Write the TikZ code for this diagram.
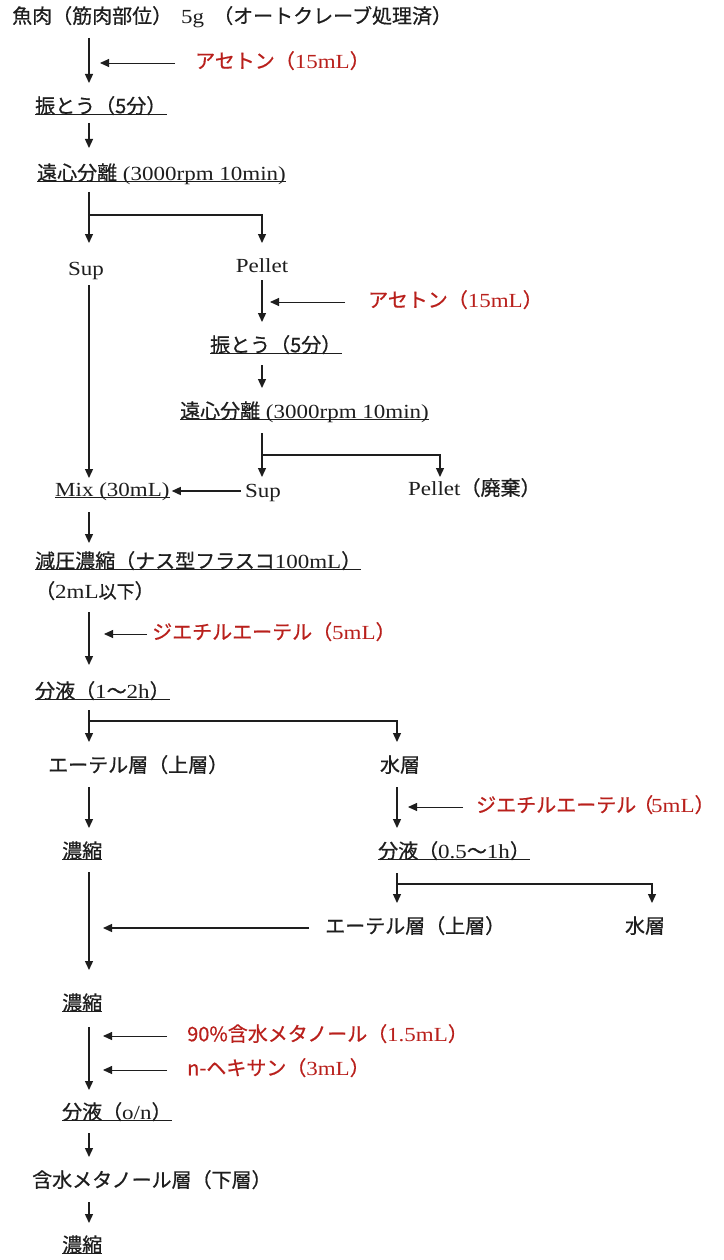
\documentclass[tikz,border=0pt]{standalone}
\usepackage{fontspec}
\setmainfont{Liberation Serif}[FakeStretch=1.15]
\newfontfamily\jp{Noto Sans CJK JP}[FakeBold=0.6]
\usetikzlibrary{arrows.meta,calc}
\definecolor{redlab}{RGB}{185,32,28}
\definecolor{ink}{RGB}{30,30,30}
\newcommand\J[1]{{\jp #1}}
\begin{document}
\begin{tikzpicture}[x=1pt,y=1pt,
  every node/.style={font=\fontsize{20}{24}\selectfont, text=ink, inner sep=0pt, text height=1.15em, text depth=0.1em},
  txt/.style={anchor=west},
  ul/.style={anchor=west, append after command={(\tikzlastnode.south west) edge[draw=ink, line width=0.9pt, -] (\tikzlastnode.south east)}},
  reag/.style={anchor=west, text=redlab},
  arr/.style={draw=ink, line width=1.3pt, -{Triangle[length=9pt,width=8pt]}},
  feed/.style={arr, line width=0.9pt},
]
\fill[white] (0,0) rectangle (723,-1260);
\useasboundingbox (0,0) rectangle (723,-1260);
\coordinate (colA) at (89,0);
\coordinate (colB) at (262,0);
\coordinate (colC) at (397,0);
\coordinate (colD) at (440,0);
\coordinate (colE) at (652,0);

\node[txt] (t1) at (12,-18) {\J{魚肉（筋肉部位）}\hspace{9pt}5g\hspace{9pt}\J{（オートクレーブ処理済）}};
\node[reag] (a1) at (195,-63) {\J{アセトン（}15mL\J{）}};
\node[ul] (s1) at (35,-108) {\J{振とう（5分）}};
\node[ul] (c1) at (37,-175) {\J{遠心分離} (3000rpm 10min)};
\node (sup1) at (86,-270) {Sup};
\node (pel1) at (262,-267) {Pellet};
\node[reag] (a2) at (368,-302) {\J{アセトン（}15mL\J{）}};
\node[ul] (s2) at (210,-347) {\J{振とう（5分）}};
\node[ul] (c2) at (180,-413) {\J{遠心分離} (3000rpm 10min)};
\node[ul] (mix) at (55,-491) {Mix (30mL)};
\node (sup2) at (263,-492) {Sup};
\node[txt] (pel2) at (408,-490) {Pellet\J{（廃棄）}};
\node[ul] (g) at (35,-563) {\J{減圧濃縮（ナス型フラスコ}100mL\J{）}};
\node[txt] (g2) at (35,-593) {\J{（}2mL{\fontsize{18}{20}\selectfont\J{以下}}\J{）}};
\node[reag] (de1) at (152,-634) {\J{ジエチルエーテル（}5mL\J{）}};
\node[ul] (b1) at (35,-693) {\J{分液（}1\J{〜}2h\J{）}};
\node[txt] (e1) at (48,-767) {\J{エーテル層（上層）}};
\node (w1) at (400,-767) {\J{水層}};
\node[ul] (n1) at (62,-853) {\J{濃縮}};
\node[reag] (de2) at (476,-807) {\J{ジエチルエーテル}\hspace{-3pt}\J{（}\hspace{-2pt}5mL\J{）}\hspace{-9pt}};
\node[ul] (b2) at (378,-853) {\J{分液（}0.5\J{〜}1h\J{）}};
\node[txt] (e2) at (325,-928) {\J{エーテル層（上層）}};
\node (w2) at (645,-928) {\J{水層}};
\node[ul] (n2) at (62,-1005) {\J{濃縮}};
\node[reag] (m1) at (187,-1036) {\J{90\%含水メタノール（}1.5mL\J{）}};
\node[reag] (h1) at (187,-1070) {\J{n-ヘキサン（}3mL\J{）}};
\node[ul] (b3) at (62,-1114) {\J{分液（}o/n\J{）}};
\node[txt] (ml) at (32,-1182) {\J{含水メタノール層（下層）}};
\node[ul] (n3) at (62,-1247) {\J{濃縮}};

\draw[arr] ($(t1.center -| colA)+(0,-20)$) -- ($(s1.center -| colA)+(0,25)$);
\draw[feed] ($(a1.west)+(-20,0)$) -- ($(a1.west -| colA)+(11,0)$);
\draw[arr] ($(s1.center -| colA)+(0,-15)$) -- ($(c1.center -| colA)+(0,27)$);
\draw[arr] ($(c1.center -| colA)+(0,-17)$) -- ($(sup1.center -| colA)+(0,27)$);
\coordinate (br1) at ($(c1.center -| colA)+(0,-40)$);
\draw[arr] (br1) -| ($(pel1.center)+(0,24)$);
\draw[arr] ($(sup1.center -| colA)+(0,-15)$) -- ($(mix.center -| colA)+(0,13)$);
\draw[arr] ($(pel1.center)+(0,-13)$) -- ($(s2.center -| colB)+(0,25)$);
\draw[feed] ($(a2.west)+(-23,0)$) -- ($(a2.west -| colB)+(8,0)$);
\draw[arr] ($(s2.center -| colB)+(0,-18)$) -- ($(c2.center -| colB)+(0,25)$);
\draw[arr] ($(c2.center -| colB)+(0,-20)$) -- ($(sup2.center -| colB)+(0,15)$);
\coordinate (br2) at ($(c2.center -| colB)+(0,-42)$);
\draw[arr] (br2) -| ($(pel2.center -| colD)+(0,13)$);
\draw[arr] ($(sup2.west |- mix.east)+(-4,0)$) -- ($(mix.east)+(2,0)$);
\draw[arr] ($(mix.center -| colA)+(0,-21)$) -- ($(g.center -| colA)+(0,20)$);
\draw[arr] ($(g2.center -| colA)+(0,-19)$) -- ($(b1.center -| colA)+(0,28)$);
\draw[feed] ($(de1.west)+(-5,0)$) -- ($(de1.west -| colA)+(15,0)$);
\draw[arr] ($(b1.center -| colA)+(0,-17)$) -- ($(e1.center -| colA)+(0,25)$);
\coordinate (br3) at ($(b1.center -| colA)+(0,-28)$);
\draw[arr] (br3) -| ($(w1.center -| colC)+(0,25)$);
\draw[arr] ($(e1.center -| colA)+(0,-20)$) -- ($(n1.center -| colA)+(0,25)$);
\draw[arr] ($(w1.center -| colC)+(0,-20)$) -- ($(b2.center -| colC)+(0,25)$);
\draw[feed] ($(de2.west)+(-13,0)$) -- ($(de2.west -| colC)+(11,0)$);
\draw[arr] ($(n1.center -| colA)+(0,-19)$) -- ($(n2.center -| colA)+(0,35)$);
\draw[arr] ($(b2.center -| colC)+(0,-20)$) -- ($(e2.center -| colC)+(0,25)$);
\coordinate (br4) at ($(b2.center -| colC)+(0,-31)$);
\draw[arr] (br4) -| ($(w2.center -| colE)+(0,25)$);
\draw[arr] ($(e2.west)+(-16,0)$) -- ($(e2.west -| colA)+(14,0)$);
\draw[arr] ($(n2.center -| colA)+(0,-22)$) -- ($(b3.center -| colA)+(0,24)$);
\draw[feed] ($(m1.west)+(-20,0)$) -- ($(m1.west -| colA)+(14,0)$);
\draw[feed] ($(h1.west)+(-20,0)$) -- ($(h1.west -| colA)+(14,0)$);
\draw[arr] ($(b3.center -| colA)+(0,-19)$) -- ($(ml.center -| colA)+(0,25)$);
\draw[arr] ($(ml.center -| colA)+(0,-20)$) -- ($(n3.center -| colA)+(0,24)$);
\end{tikzpicture}
\end{document}
